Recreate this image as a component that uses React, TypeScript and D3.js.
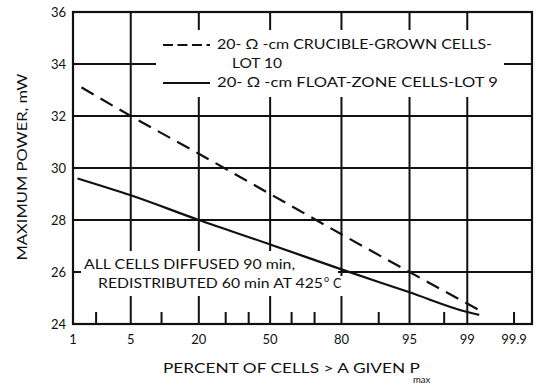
import React from "react";
import * as d3 from "d3";

// Y axis: maximum power (mW)
const powerTicks = [24, 26, 28, 30, 32, 34, 36];
// X axis: cumulative percent of cells, on a normal-probability scale
const gridPercents = [5, 20, 50, 80, 95, 99];
const labelPercents = [1, 5, 20, 50, 80, 95, 99, 99.8];
const labelTexts = ["1", "5", "20", "50", "80", "95", "99", "99.9"];
const minorPercents = [2, 10, 30, 40, 60, 70, 90, 98, 99.8];

// 20 ohm-cm crucible-grown cells, lot 10
const crucibleLot10Pct = [1.3, 5, 20, 50, 80, 95, 99.3];
const crucibleLot10Mw = [33.1, 32.0, 30.55, 29.0, 27.45, 26.0, 24.55];
// 20 ohm-cm float-zone cells, lot 9
const floatZoneLot9Pct = [1.15, 5, 20, 50, 80, 95, 99, 99.32];
const floatZoneLot9Mw = [29.6, 28.95, 28.0, 27.06, 26.1, 25.22, 24.46, 24.35];

// Inverse standard normal CDF (Acklam's rational approximation)
function probit(p: number): number {
  const a = [-39.69683028665376, 220.9460984245205, -275.9285104469687, 138.357751867269, -30.66479806614716, 2.506628277459239];
  const b = [-54.47609879822406, 161.5858368580409, -155.6989798598866, 66.80131188771972, -13.28068155288572];
  const c = [-0.007784894002430293, -0.3223964580411365, -2.400758277161838, -2.549732539343734, 4.374664141464968, 2.938163982698783];
  const d = [0.007784695709041462, 0.3224671290700398, 2.445134137142996, 3.754408661907416];
  const pl = 0.02425;
  if (p < pl) {
    const q = Math.sqrt(-2 * Math.log(p));
    return (((((c[0] * q + c[1]) * q + c[2]) * q + c[3]) * q + c[4]) * q + c[5]) /
      ((((d[0] * q + d[1]) * q + d[2]) * q + d[3]) * q + 1);
  }
  if (p > 1 - pl) {
    const q = Math.sqrt(-2 * Math.log(1 - p));
    return -(((((c[0] * q + c[1]) * q + c[2]) * q + c[3]) * q + c[4]) * q + c[5]) /
      ((((d[0] * q + d[1]) * q + d[2]) * q + d[3]) * q + 1);
  }
  const q = p - 0.5;
  const r = q * q;
  return (((((a[0] * r + a[1]) * r + a[2]) * r + a[3]) * r + a[4]) * r + a[5]) * q /
    (((((b[0] * r + b[1]) * r + b[2]) * r + b[3]) * r + b[4]) * r + 1);
}

const W = 544;
const H = 385;
const plotLeft = 73;
const plotRight = 532;
const plotTop = 12;
const plotBottom = 324;

const FONT = "Lato, 'DejaVu Sans', sans-serif";
const INK = "#111111";

export default function App() {
  const zScale = d3.scaleLinear().domain([probit(0.01), probit(0.999)]).range([plotLeft, plotRight]);
  const x = (pct: number) => zScale(probit(pct / 100));
  const y = d3.scaleLinear().domain([24, 36]).range([plotBottom, plotTop]);

  const lineGen = d3
    .line<[number, number]>()
    .x((d) => x(d[0]))
    .y((d) => y(d[1]))
    .curve(d3.curveMonotoneX);

  const crucible = lineGen(crucibleLot10Pct.map((p, i) => [p, crucibleLot10Mw[i]]) as [number, number][]) || "";
  const floatZone = lineGen(floatZoneLot9Pct.map((p, i) => [p, floatZoneLot9Mw[i]]) as [number, number][]) || "";

  // grid lines collected into one path
  const grid = d3.path();
  powerTicks
    .filter((v) => v > 24 && v < 36)
    .forEach((v) => {
      grid.moveTo(plotLeft, y(v));
      grid.lineTo(plotRight, y(v));
    });
  gridPercents.forEach((p) => {
    grid.moveTo(x(p), plotTop);
    grid.lineTo(x(p), plotBottom);
  });

  // short tick marks along the bottom axis, plus the stub at 26 mW
  const ticks = d3.path();
  minorPercents.forEach((p) => {
    ticks.moveTo(x(p), plotBottom);
    ticks.lineTo(x(p), plotBottom - 12);
  });
  ticks.moveTo(plotLeft, y(26));
  ticks.lineTo(plotLeft + 8, y(26));

  return (
    <svg
      width={W}
      height={H}
      viewBox={`0 0 ${W} ${H}`}
      style={{ position: "absolute", left: 0, top: 0, background: "#fff" }}
    >
      <rect x={0} y={0} width={W} height={H} fill="#fff" />

      {/* grid */}
      <path d={grid.toString()} fill="none" stroke={INK} strokeWidth={2} />

      {/* clear space behind legend and note */}
      <rect x={156} y={30} width={348} height={67} fill="#fff" />
      <rect x={81} y={251} width={257} height={25} fill="#fff" />
      <rect x={95} y={276} width={251} height={20} fill="#fff" />

      {/* tick marks */}
      <path d={ticks.toString()} fill="none" stroke={INK} strokeWidth={2} />

      {/* frame */}
      <rect
        x={plotLeft}
        y={plotTop}
        width={plotRight - plotLeft}
        height={plotBottom - plotTop}
        fill="none"
        stroke={INK}
        strokeWidth={2.2}
      />

      {/* data */}
      <path d={crucible} fill="none" stroke={INK} strokeWidth={2.2} strokeDasharray="14 8" />
      <path d={floatZone} fill="none" stroke={INK} strokeWidth={2.2} />

      {/* y tick labels */}
      {powerTicks.map((v) => (
        <text key={`yl${v}`} x={66} y={y(v) + 5} fontFamily={FONT} fontSize={13} fill={INK} textAnchor="end">
          {v}
        </text>
      ))}

      {/* x tick labels */}
      {labelPercents.map((p, i) => (
        <text key={`xl${i}`} x={x(p)} y={344} fontFamily={FONT} fontSize={13} fill={INK} textAnchor="middle">
          {labelTexts[i]}
        </text>
      ))}

      {/* axis titles */}
      <text
        fontFamily={FONT}
        fontSize={12.5}
        fill={INK}
        textAnchor="middle"
        transform={`translate(27,167) rotate(-90)`}
        textLength={187}
        lengthAdjust="spacingAndGlyphs"
      >
        MAXIMUM POWER, mW
      </text>
      <text fontFamily={FONT} fontSize={12.5} fill={INK} x={163} y={373} textLength={257} lengthAdjust="spacingAndGlyphs">
        PERCENT OF CELLS &gt; A GIVEN P
      </text>
      <text fontFamily={FONT} fontSize={9.5} fill={INK} x={413} y={383}>
        max
      </text>

      {/* legend */}
      <line x1={163} x2={210} y1={45} y2={45} stroke={INK} strokeWidth={2.2} strokeDasharray="10 4.5" />
      <text fontFamily={FONT} fontSize={12.5} fill={INK} x={217} y={49} textLength={275} lengthAdjust="spacingAndGlyphs">
        20- Ω -cm CRUCIBLE-GROWN CELLS-
      </text>
      <text fontFamily={FONT} fontSize={12.5} fill={INK} x={232} y={68} textLength={50} lengthAdjust="spacingAndGlyphs">
        LOT 10
      </text>
      <line x1={163} x2={210} y1={83} y2={83} stroke={INK} strokeWidth={2.2} />
      <text fontFamily={FONT} fontSize={12.5} fill={INK} x={217} y={87} textLength={281} lengthAdjust="spacingAndGlyphs">
        20- Ω -cm FLOAT-ZONE CELLS-LOT 9
      </text>

      {/* processing note */}
      <text fontFamily={FONT} fontSize={12.5} fill={INK} x={84} y={269} textLength={211} lengthAdjust="spacingAndGlyphs">
        ALL CELLS DIFFUSED 90 min,
      </text>
      <text fontFamily={FONT} fontSize={12.5} fill={INK} x={98} y={288} textLength={225} lengthAdjust="spacingAndGlyphs">
        REDISTRIBUTED 60 min AT 425
      </text>
      <text fontFamily={FONT} fontSize={9} fill={INK} x={324} y={282}>
        o
      </text>
      <text fontFamily={FONT} fontSize={12.5} fill={INK} x={333} y={288}>
        C
      </text>
    </svg>
  );
}
